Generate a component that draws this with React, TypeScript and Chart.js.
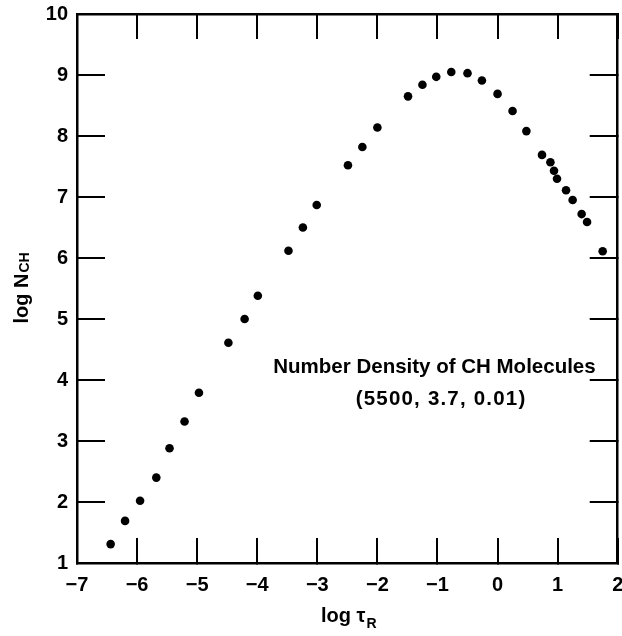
import React, { useEffect, useRef } from "react";
import { Chart, registerables } from "chart.js";

Chart.register(...registerables);

const logTau: number[] = [
  -6.44, -6.2, -5.95, -5.68, -5.46, -5.21, -4.97, -4.48, -4.21, -3.99, -3.48,
  -3.24, -3.01, -2.49, -2.25, -2.0, -1.49, -1.25, -1.02, -0.77, -0.5, -0.26,
  0.0, 0.25, 0.48, 0.74, 0.88, 0.94, 0.99, 1.14, 1.25, 1.4, 1.49, 1.75,
];
const logN: number[] = [
  1.31, 1.69, 2.02, 2.4, 2.88, 3.32, 3.79, 4.61, 5.0, 5.38, 6.12, 6.5, 6.87,
  7.52, 7.82, 8.14, 8.65, 8.84, 8.97, 9.05, 9.03, 8.91, 8.69, 8.41, 8.08, 7.69,
  7.57, 7.43, 7.3, 7.11, 6.95, 6.72, 6.59, 6.11,
];
const xRange: number[] = [-7, 2];
const yRange: number[] = [1, 10];
const annotationLines: string[] = [
  "Number Density of CH Molecules",
  "(5500, 3.7, 0.01)",
];
const annotationX: number[] = [-1.05, -0.94];
const annotationY: number[] = [4.12, 3.59];

const FONT = '"Liberation Sans", Arial, sans-serif';

const textPlugin = {
  id: "textPlugin",
  afterDraw(chart: any) {
    const ctx = chart.ctx as CanvasRenderingContext2D;
    const ca = chart.chartArea;
    const xs = chart.scales.x;
    const ys = chart.scales.y;
    ctx.save();
    ctx.fillStyle = "#000";
    // annotation
    ctx.font = `bold 20.5px ${FONT}`;
    ctx.textAlign = "center";
    ctx.textBaseline = "alphabetic";
    annotationLines.forEach((t, i) => {
      (ctx as any).letterSpacing = i === 1 ? "1.2px" : "0px";
      ctx.fillText(
        t,
        xs.getPixelForValue(annotationX[i]),
        ys.getPixelForValue(annotationY[i])
      );
    });
    (ctx as any).letterSpacing = "0px";
    // y title: log N_CH
    const midY = (ca.top + ca.bottom) / 2;
    ctx.save();
    ctx.translate(22, midY);
    ctx.rotate(-Math.PI / 2);
    ctx.textAlign = "left";
    ctx.textBaseline = "middle";
    const mainFont = `bold 20px ${FONT}`;
    const subFont = `bold 14px ${FONT}`;
    ctx.font = mainFont;
    const w1 = ctx.measureText("log N").width;
    ctx.font = subFont;
    const w2 = ctx.measureText("CH").width;
    const sx = -(w1 + w2) / 2;
    ctx.font = mainFont;
    ctx.fillText("log N", sx, 0);
    ctx.font = subFont;
    ctx.fillText("CH", sx + w1 + 1, 3);
    ctx.restore();
    // x title: log τ_R
    const midX = (ca.left + ca.right) / 2 + 1;
    ctx.textAlign = "left";
    ctx.textBaseline = "alphabetic";
    ctx.font = mainFont;
    const a1 = ctx.measureText("log τ").width;
    ctx.font = subFont;
    const a2 = ctx.measureText("R").width;
    const ax = midX - (a1 + a2) / 2;
    ctx.font = mainFont;
    ctx.fillText("log τ", ax, 622);
    ctx.font = subFont;
    ctx.fillText("R", ax + a1 + 1, 628);
    ctx.restore();
  },
};

const fmt = (v: number | string) => String(v).replace("-", "\u2212");

export default function App() {
  const ref = useRef<HTMLCanvasElement | null>(null);
  useEffect(() => {
    document.body.style.margin = "0";
    const canvas = ref.current!;
    const tickFont = { family: FONT, size: 20, weight: "bold" as const };
    const xGrid = {
      drawOnChartArea: false,
      drawTicks: true,
      tickLength: -25,
      lineWidth: 2,
      color: "#000",
    };
    const yGrid = {
      drawOnChartArea: false,
      drawTicks: true,
      tickLength: -28,
      lineWidth: 2,
      color: "#000",
    };
    const border = { display: true, color: "#000", width: 2.5 };
    const zeroPad = (s: any) => {
      s.paddingLeft = 0;
      s.paddingRight = 0;
      s.paddingTop = 0;
      s.paddingBottom = 0;
    };
    const chart = new Chart(canvas, {
      type: "scatter",
      data: {
        datasets: [
          {
            data: logTau.map((x, i) => ({ x, y: logN[i] })),
            pointRadius: 4.3,
            pointBackgroundColor: "#000",
            pointBorderWidth: 0,
            showLine: false,
          },
        ],
      },
      options: {
        responsive: false,
        animation: false,
        devicePixelRatio: 1,
        layout: { padding: { top: 14, left: 0, right: 3, bottom: 0 } },
        plugins: {
          legend: { display: false },
          tooltip: { enabled: false },
        },
        scales: {
          x: {
            type: "linear",
            position: "bottom",
            min: xRange[0],
            max: xRange[1],
            ticks: {
              stepSize: 1,
              font: tickFont,
              color: "#000",
              padding: 35,
              maxRotation: 0,
              callback: (v: number) => fmt(v),
            },
            grid: xGrid,
            border,
            afterFit: (s: any) => {
              s.height = 73;
              zeroPad(s);
            },
          },
          x2: {
            type: "linear",
            axis: "x",
            position: "top",
            min: xRange[0],
            max: xRange[1],
            ticks: { stepSize: 1, display: false },
            grid: xGrid,
            border,
            afterFit: (s: any) => {
              s.height = 0;
              zeroPad(s);
            },
          },
          y: {
            type: "linear",
            position: "left",
            min: yRange[0],
            max: yRange[1],
            ticks: {
              stepSize: 1,
              font: tickFont,
              color: "#000",
              padding: 37,
            },
            grid: yGrid,
            border,
            afterFit: (s: any) => {
              s.width = 77;
              zeroPad(s);
            },
          },
          y2: {
            type: "linear",
            axis: "y",
            position: "right",
            min: yRange[0],
            max: yRange[1],
            ticks: { stepSize: 1, display: false },
            grid: yGrid,
            border,
            afterFit: (s: any) => {
              s.width = 0;
              zeroPad(s);
            },
          },
        },
      } as any,
      plugins: [textPlugin],
    });
    return () => chart.destroy();
  }, []);
  return (
    <canvas
      ref={ref}
      width={622}
      height={636}
      style={{ display: "block", width: 622, height: 636 }}
    />
  );
}
